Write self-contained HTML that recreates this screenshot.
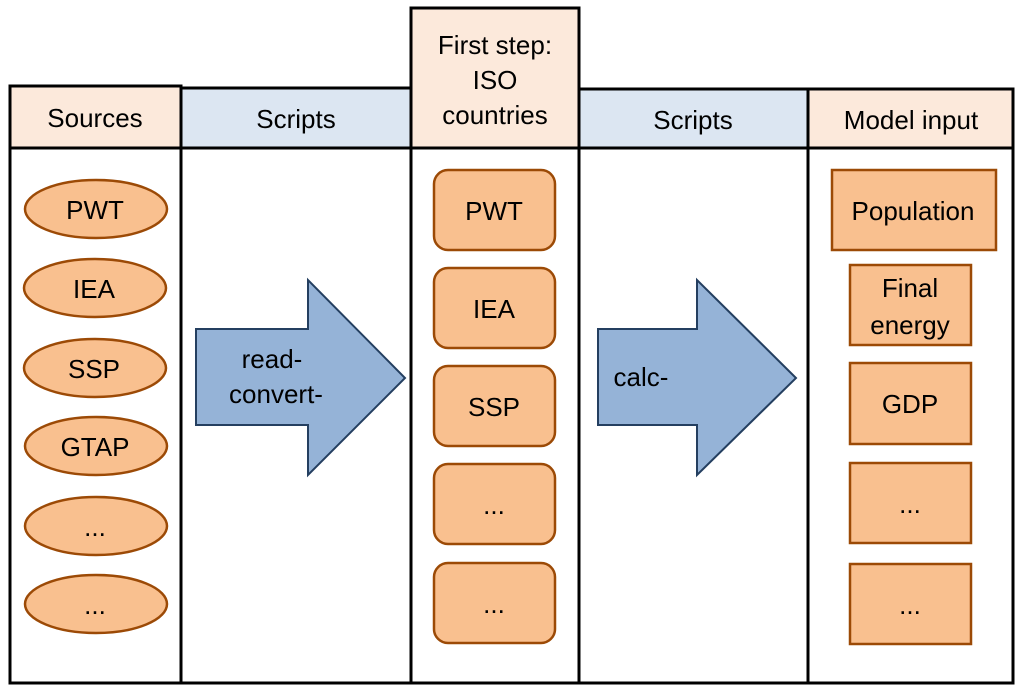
<!DOCTYPE html>
<html><head><meta charset="utf-8"><style>
html,body{margin:0;padding:0;background:#fff;}
svg{display:block;}
text{font-family:"Liberation Sans",sans-serif;font-size:26px;fill:#000;text-anchor:middle;}
</style></head><body>
<svg width="1024" height="692" viewBox="0 0 1024 692" xmlns="http://www.w3.org/2000/svg">
<rect x="10" y="86" width="171" height="62" fill="#fce9db" stroke="#000" stroke-width="3"/>
<rect x="181" y="88" width="230" height="60" fill="#dce6f2" stroke="#000" stroke-width="3"/>
<rect x="411" y="8" width="168" height="140" fill="#fce9db" stroke="#000" stroke-width="3"/>
<rect x="579" y="89" width="229" height="59" fill="#dce6f2" stroke="#000" stroke-width="3"/>
<rect x="808" y="89" width="205" height="59" fill="#fce9db" stroke="#000" stroke-width="3"/>
<rect x="10" y="148" width="171" height="535" fill="none" stroke="#000" stroke-width="3"/>
<rect x="181" y="148" width="230" height="535" fill="none" stroke="#000" stroke-width="3"/>
<rect x="411" y="148" width="168" height="535" fill="none" stroke="#000" stroke-width="3"/>
<rect x="579" y="148" width="229" height="535" fill="none" stroke="#000" stroke-width="3"/>
<rect x="808" y="148" width="205" height="535" fill="none" stroke="#000" stroke-width="3"/>
<text x="95" y="127">Sources</text>
<text x="296" y="128">Scripts</text>
<text x="495" y="54">First step:</text>
<text x="495" y="89">ISO</text>
<text x="495" y="124">countries</text>
<text x="693" y="129">Scripts</text>
<text x="911" y="129">Model input</text>
<g fill="#f9c08f" stroke="#9c4a06" stroke-width="2.5">
<ellipse cx="96" cy="209" rx="71" ry="29"/>
<ellipse cx="95" cy="288" rx="71" ry="29"/>
<ellipse cx="95" cy="368" rx="71" ry="29"/>
<ellipse cx="96" cy="446" rx="71" ry="29"/>
<ellipse cx="96" cy="526" rx="71" ry="29"/>
<ellipse cx="96" cy="604" rx="71" ry="29"/>
</g>
<text x="95" y="219">PWT</text>
<text x="94" y="298">IEA</text>
<text x="94" y="378">SSP</text>
<text x="95" y="456">GTAP</text>
<text x="95" y="536">...</text>
<text x="95" y="614">...</text>
<g fill="#f9c08f" stroke="#9c4a06" stroke-width="2.5">
<rect x="434" y="170" width="121" height="80" rx="14"/>
<rect x="434" y="268" width="121" height="80" rx="14"/>
<rect x="434" y="366" width="121" height="80" rx="14"/>
<rect x="434" y="464" width="121" height="80" rx="14"/>
<rect x="434" y="563" width="121" height="80" rx="14"/>
</g>
<text x="494" y="220">PWT</text>
<text x="494" y="318">IEA</text>
<text x="494" y="416">SSP</text>
<text x="494" y="514">...</text>
<text x="494" y="613">...</text>
<g fill="#f9c08f" stroke="#9c4a06" stroke-width="2.5">
<rect x="832" y="170" width="164" height="80"/>
<rect x="850" y="265" width="121" height="80"/>
<rect x="850" y="363" width="121" height="81"/>
<rect x="850" y="463" width="121" height="80"/>
<rect x="850" y="564" width="121" height="80"/>
</g>
<text x="913" y="220">Population</text>
<text x="910" y="297">Final</text>
<text x="910" y="334">energy</text>
<text x="910" y="413">GDP</text>
<text x="910" y="513">...</text>
<text x="910" y="614">...</text>
<g fill="#95b3d7" stroke="#243f60" stroke-width="2">
<polygon points="196,329 308,329 308,280 405,378 308,475 308,425 196,425"/>
<polygon points="598,329 697,329 697,280 796,378 697,475 697,425 598,425"/>
</g>
<text x="272" y="368">read-</text>
<text x="276" y="403">convert-</text>
<text x="641" y="386">calc-</text>
</svg>
</body></html>
